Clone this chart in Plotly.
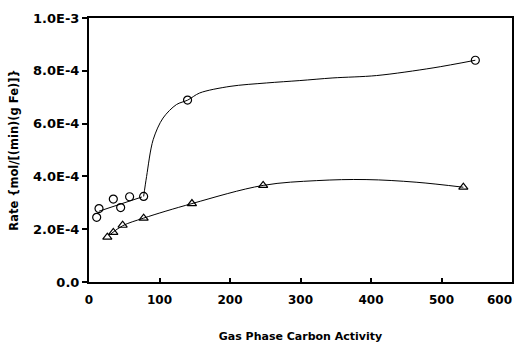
import plotly.graph_objects as go

circ_x = [10.9, 14.2, 34.5, 44.9, 57.6, 77.5, 139.8, 548]
circ_y = [2.45e-4, 2.78e-4, 3.14e-4, 2.82e-4, 3.23e-4, 3.24e-4, 6.89e-4, 8.40e-4]
tri_x = [26, 34.5, 47.7, 77.5, 146, 247, 531]
tri_y = [1.70e-4, 1.88e-4, 2.15e-4, 2.42e-4, 2.97e-4, 3.66e-4, 3.59e-4]

# Hand-drawn fit curves
fit1a_x = [14, 75]
fit1a_y = [2.68e-4, 3.22e-4]
fit1b_x = [77.5, 81.7, 91, 105, 124, 140, 157, 200, 252, 299, 346, 408, 488, 548]
fit1b_y = [3.24e-4, 4.0e-4, 5.39e-4, 6.21e-4, 6.72e-4, 6.89e-4, 7.16e-4, 7.41e-4,
           7.54e-4, 7.63e-4, 7.73e-4, 7.82e-4, 8.11e-4, 8.40e-4]
fit2_x = [30, 47.7, 77.5, 146, 247, 323, 393, 464, 531]
fit2_y = [1.80e-4, 2.13e-4, 2.42e-4, 2.97e-4, 3.66e-4, 3.84e-4, 3.88e-4, 3.78e-4, 3.59e-4]

x_ticks = [0, 100, 200, 300, 400, 500, 600]
x_ticktext = ["0", "100", "200", "300", "400", "500", "600"]
y_ticks = [0, 2e-4, 4e-4, 6e-4, 8e-4, 1e-3]
y_ticktext = ["0.0", "2.0E-4", "4.0E-4", "6.0E-4", "8.0E-4", "1.0E-3"]

fig = go.Figure()
line_style = dict(color="black", width=1)
fig.add_trace(go.Scatter(x=fit1a_x, y=fit1a_y, mode="lines", line=line_style, hoverinfo="skip"))
fig.add_trace(go.Scatter(x=fit1b_x, y=fit1b_y, mode="lines", line=dict(color="black", width=1, shape="spline", smoothing=0.9), hoverinfo="skip"))
fig.add_trace(go.Scatter(x=fit2_x, y=fit2_y, mode="lines", line=dict(color="black", width=1, shape="spline", smoothing=1.0), hoverinfo="skip"))
fig.add_trace(go.Scatter(x=circ_x, y=circ_y, mode="markers",
                         marker=dict(symbol="circle-open", size=8, color="black", line=dict(width=1.2))))
fig.add_trace(go.Scatter(x=tri_x, y=tri_y, mode="markers",
                         marker=dict(symbol="triangle-up-open", size=8, color="black", line=dict(width=1.2))))

tickfont_x = dict(size=12, family="DejaVu Sans", weight="bold", color="black")
# last x label is kept inside the page (right-aligned at the axis end), as in the reference
shown_x_text = x_ticktext[:-1] + [""]
fig.add_annotation(x=x_ticks[-1], y=y_ticks[0], xref="x", yref="y", text=x_ticktext[-1],
                   showarrow=False, xanchor="right", yanchor="top", xshift=2, yshift=-9,
                   font=tickfont_x)

font = dict(family="DejaVu Sans", color="black", weight="bold")
fig.update_layout(
    width=514, height=344,
    margin=dict(l=89, r=2, t=18, b=62, autoexpand=False),
    paper_bgcolor="white", plot_bgcolor="white",
    showlegend=False,
    font=font,
    xaxis=dict(range=[0, 600], tickvals=x_ticks, ticktext=shown_x_text, ticks="inside", ticklen=4,
               tickwidth=1.5, tickcolor="black", showline=True, linecolor="black", linewidth=2,
               mirror=True, showgrid=False, zeroline=False, ticklabelstandoff=6,
               automargin=False, tickfont=tickfont_x,
               title=dict(text="Gas Phase Carbon Activity", standoff=26,
                          font=dict(size=11, family="DejaVu Sans", weight="bold"))),
    yaxis=dict(range=[0, 1e-3], tickvals=y_ticks, ticktext=y_ticktext, ticks="outside", ticklen=5,
               tickwidth=1.5, tickcolor="black", showline=True, linecolor="black", linewidth=2,
               mirror=True, showgrid=False, zeroline=False, automargin=False,
               tickfont=dict(size=13, family="DejaVu Sans", weight="bold"),
               title=dict(text="Rate {mol/[(min)(g Fe)]}", standoff=12,
                          font=dict(size=11.5, family="DejaVu Sans", weight="bold"))),
)
fig.write_html("out.html")
